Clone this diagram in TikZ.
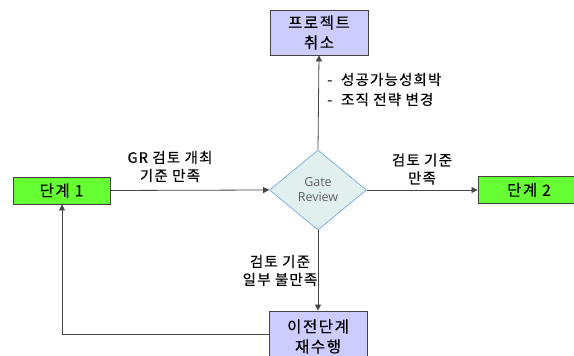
\documentclass[tikz,border=0pt]{standalone}
\usepackage{fontspec}
\setmainfont{Noto Sans CJK KR}[LetterSpace=8,FakeBold=0.4]
\newfontfamily\boxfont{Noto Sans CJK KR}[LetterSpace=10,FakeBold=0.4]
\newfontfamily\latinsans{Open Sans}
\usetikzlibrary{shapes.geometric,arrows.meta}
\definecolor{boxgreen}{HTML}{66FF33}
\definecolor{boxlav}{HTML}{CCCCFF}
\definecolor{diafill}{HTML}{E2EFEF}
\definecolor{diaedge}{HTML}{7FB2DC}
\definecolor{lineg}{HTML}{444444}
\tikzset{
  stagebox/.style={draw=lineg, line width=0.9pt, fill=boxgreen, minimum width=97pt, minimum height=27pt, inner sep=0pt, font=\boxfont\fontsize{15.5}{17}\selectfont},
  lavbox/.style={draw=lineg, line width=0.9pt, fill=boxlav, minimum width=98pt, inner sep=0pt, font=\boxfont\fontsize{15.5}{20}\selectfont, align=center},
  conn/.style={draw=lineg, line width=0.8pt, -{Triangle[length=6pt,width=6pt]}},
  lbl/.style={font=\fontsize{14.5}{18}\selectfont, align=center, inner sep=0pt}
}
\begin{document}
\begin{tikzpicture}[x=1pt,y=1pt]
\useasboundingbox (0,0) rectangle (574,356);
\node[lavbox, minimum height=45pt] (cancel) at (319,323.5) {프로젝트\\취소};
\node[stagebox] (s1) at (61.5,165.5) {단계 1};
\node[stagebox, minimum width=102pt] (s2) at (529,166) {단계 2};
\node[diamond, draw=diaedge, line width=0.8pt, fill=diafill, minimum width=97pt, minimum height=80pt, inner sep=0pt, aspect=1.2, font=\latinsans\fontsize{12.5}{15}\selectfont, text=black!62, align=center] (gate) at (318,166) {Gate\\Review};
\node[lavbox, minimum height=51pt] (redo) at (318,19.5) {이전단계\\재수행};
\draw[conn] (s1.east) -- (gate.west);
\draw[conn] (gate.east) -- (s2.west);
\draw[conn] (gate.north) -- (cancel.south);
\draw[conn] (gate.south) -- (redo.north);
\coordinate (corner) at (62,22);
\draw[conn] (redo.west |- corner) -- (corner) -- (s1.south -| corner);
\node[lbl] (l1) at (170,189.5) {GR 검토 개최\\기준 만족};
\node[lbl] (l2) at (422,187) {검토 기준\\만족};
\node[lbl] (l3) at (280,85.5) {검토 기준\\일부 불만족};
\node[lbl, anchor=west, align=left, font=\fontsize{14.5}{20}\selectfont] (l4) at (327,266.5) {-\ \ 성공가능성희박\\-\ \ 조직 전략 변경};
\end{tikzpicture}
\end{document}
